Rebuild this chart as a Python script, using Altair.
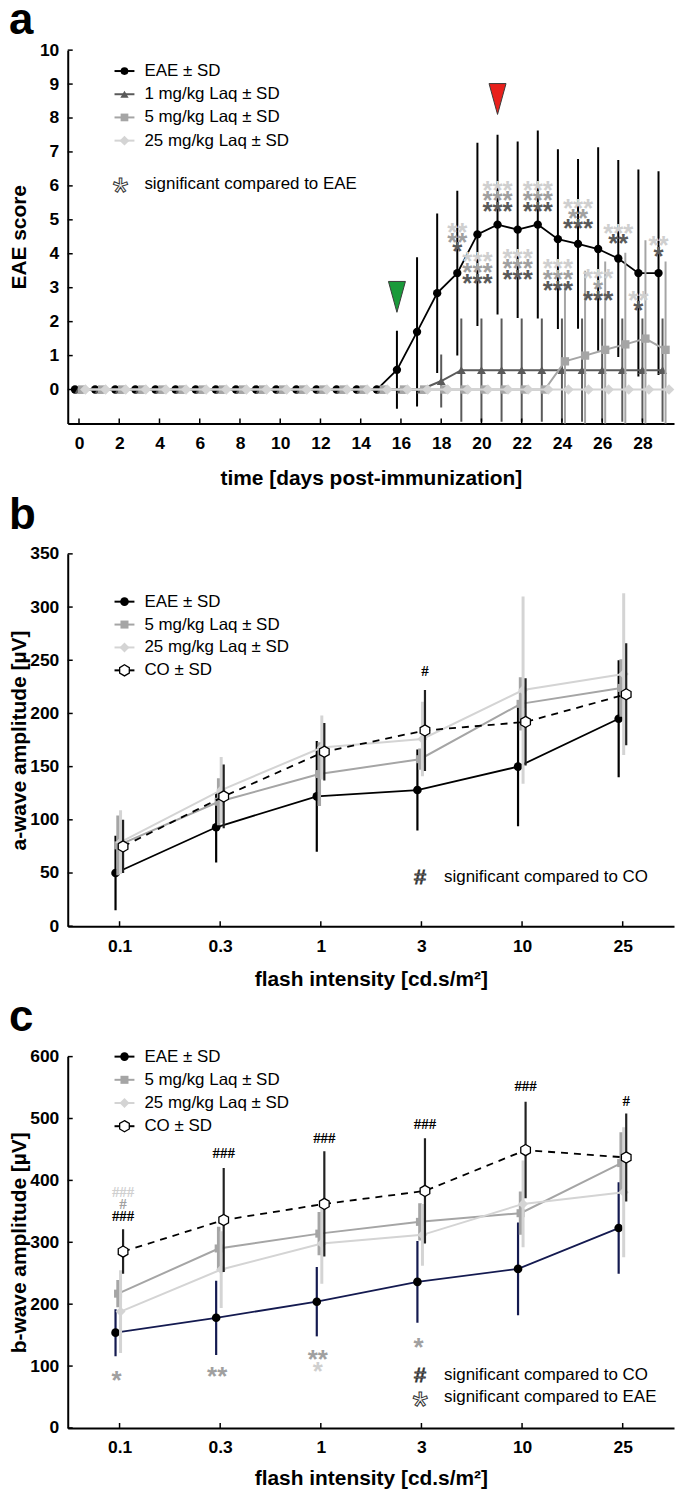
import altair as alt
import pandas as pd

FONT = "Liberation Sans, Arial, Helvetica, sans-serif"
SERIF = "Liberation Serif, Times New Roman, serif"

W = 609
HA, HB, HC = 375, 374, 373

# ---------------- Panel a : EAE score over time ----------------
days = [0, 1, 2, 3, 4, 5, 6, 7, 8, 9, 10, 11, 12, 13, 14,
        15, 16, 17, 18, 19, 20, 21, 22, 23, 24, 25, 26, 27, 28, 29]
eae_mean = [0, 0, 0, 0, 0, 0, 0, 0, 0, 0, 0, 0, 0, 0, 0, 0,
            0.58, 1.70, 2.84, 3.43, 4.57, 4.86, 4.71, 4.86, 4.43, 4.29, 4.14, 3.86, 3.43, 3.43]
eae_sd = [0, 0, 0, 0, 0, 0, 0, 0, 0, 0, 0, 0, 0, 0, 0, 0,
          1.15, 2.20, 2.35, 2.43, 2.70, 2.65, 2.60, 2.77, 2.65, 2.50, 3.00, 2.90, 3.05, 3.00]
laq1_mean = [0, 0, 0, 0, 0, 0, 0, 0, 0, 0, 0, 0, 0, 0, 0, 0, 0, 0,
             0.25, 0.57, 0.57, 0.57, 0.57, 0.57, 0.57, 0.57, 0.57, 0.57, 0.57, 0.57]
laq1_sd = [0, 0, 0, 0, 0, 0, 0, 0, 0, 0, 0, 0, 0, 0, 0, 0, 0, 0,
           0.78, 1.52, 1.52, 1.52, 1.52, 1.52, 1.52, 1.52, 1.52, 1.52, 1.52, 1.52]
laq5_mean = [0, 0, 0, 0, 0, 0, 0, 0, 0, 0, 0, 0, 0, 0, 0, 0, 0, 0, 0, 0, 0, 0, 0, 0,
             0.83, 1.00, 1.17, 1.33, 1.50, 1.17]
laq5_sd = [0, 0, 0, 0, 0, 0, 0, 0, 0, 0, 0, 0, 0, 0, 0, 0, 0, 0, 0, 0, 0, 0, 0, 0,
           2.3, 2.5, 2.6, 2.7, 2.9, 2.6]
laq25_mean = [0, 0, 0, 0, 0, 0, 0, 0, 0, 0, 0, 0, 0, 0, 0,
              0, 0, 0, 0, 0, 0, 0, 0, 0, 0, 0, 0, 0, 0, 0]
laq25_sd = [0, 0, 0, 0, 0, 0, 0, 0, 0, 0, 0, 0, 0, 0, 0,
            0, 0, 0, 0, 0, 0, 0, 0, 0, 0, 0, 0, 0, 0, 0]

# significance stars (vs EAE), placed at EAE positions
star_day_a = [19, 19, 19, 21, 21, 21, 23, 23, 23, 25, 25, 25, 27, 27, 29, 29,
              20, 20, 20, 22, 22, 22, 24, 24, 24, 26, 26, 26, 28, 28]
star_val_a = [4.81, 4.52, 4.25, 6.04, 5.75, 5.43, 6.04, 5.75, 5.43, 5.51, 5.22, 4.93, 4.78, 4.49, 4.43, 4.10,
              3.96, 3.64, 3.31, 4.05, 3.75, 3.43, 3.75, 3.43, 3.11, 3.46, 3.14, 2.82, 2.82, 2.52]
star_txt_a = ["**", "**", "*", "***", "***", "***", "***", "***", "***", "***", "**", "***", "***", "**", "**", "*",
              "***", "***", "***", "***", "***", "***", "***", "***", "***", "***", "*", "***", "**", "*"]
star_grp_a = ["light", "mid", "dark", "light", "mid", "dark", "light", "mid", "dark", "light", "mid", "dark",
              "light", "dark", "light", "dark",
              "light", "mid", "dark", "light", "mid", "dark", "light", "mid", "dark", "light", "mid", "dark",
              "light", "dark"]

# treatment markers (green: start, red: peak)
event_day = [16, 21]
event_val = [2.73, 8.56]
event_name = ["start", "peak"]

# ---------------- Panels b, c : ERG amplitudes ----------------
intensity_labels = ["0.1", "0.3", "1", "3", "10", "25"]
idx = [0, 1, 2, 3, 4, 5]

a_eae = [50, 93, 122, 128, 150, 195]
a_eae_sd = [35, 33, 52, 38, 56, 55]
a_laq5 = [76, 117, 143, 157, 209, 224]
a_laq5_sd = [28, 22, 30, 10, 25, 27]
a_laq25 = [79, 128, 168, 176, 222, 237]
a_laq25_sd = [30, 31, 30, 35, 88, 76]
a_co = [75, 122, 164, 184, 192, 218]
a_co_sd = [25, 30, 27, 38, 41, 48]

b_eae = [154, 178, 204, 236, 257, 323]
b_eae_sd = [38, 60, 56, 66, 75, 74]
b_laq5 = [217, 290, 314, 333, 347, 428]
b_laq5_sd = [22, 35, 35, 30, 35, 50]
b_laq25 = [188, 256, 298, 312, 362, 381]
b_laq25_sd = [67, 62, 65, 50, 70, 105]
b_co = [285, 336, 362, 383, 449, 437]
b_co_sd = [36, 84, 85, 85, 78, 71]

hash_i_b = [3]
hash_val_b = [239.5]
hash_txt_b = ["#"]
hash_grp_b = ["black"]

hash_i_c = [0, 0, 0, 1, 2, 3, 4, 5]
hash_val_c = [381, 362, 342.6, 444, 468, 490.6, 553, 529]
hash_txt_c = ["###", "#", "###", "###", "###", "###", "###", "#"]
hash_grp_c = ["light", "mid", "black", "black", "black", "black", "black", "black"]

star_i_c = [0, 1, 2, 2, 3]
star_val_c = [87, 93, 121, 101, 140]
star_txt_c = ["*", "**", "**", "*", "*"]
star_grp_c = ["mid", "mid", "mid", "light", "mid"]

# ---------------- styles ----------------
C_EAE, C_1, C_5, C_25 = "#000000", "#5a5a5a", "#a5a5a5", "#d4d4d4"
C_NAVY = "#141a50"
GRP_DOMAIN = ["light", "mid", "dark", "black"]
GRP_RANGE = ["#cfcfcf", "#a0a0a0", "#5a5a5a", "#000000"]
HEX = "M0,-1L0.866,-0.5L0.866,0.5L0,1L-0.866,0.5L-0.866,-0.5Z"
TRI_DOWN = "M-0.55,-1L0.55,-1L0,1Z"
LBL_SIZE, TTL_SIZE, LEG_SIZE = 17.5, 21, 17

ONE = pd.DataFrame({"k": [0]})


def axis(values, title_pad, label_pad, label_expr=None):
    kw = dict(values=values, ticks=False, grid=False, domainColor="black", domainWidth=2,
              labelFont=FONT, labelFontSize=LBL_SIZE, labelFontWeight="bold", labelColor="black",
              labelPadding=label_pad, labelOverlap=False, labelFlush=False,
              titleFont=FONT, titleFontSize=TTL_SIZE, titleFontWeight="bold", titleColor="black",
              titlePadding=title_pad)
    if label_expr:
        kw["labelExpr"] = label_expr
    return alt.Axis(**kw)


def make_panel(xscale, yscale, xaxis, yaxis, xtitle, ytitle, H, series, xticks, yticks,
               annotations, legend_items, legend_y0, legend_gap, extra_legend, letter, letter_y):
    def X(f):
        return alt.X(f"{f}:Q", scale=xscale, axis=xaxis, title=xtitle)

    def Y(f):
        return alt.Y(f"{f}:Q", scale=yscale, axis=yaxis, title=ytitle)

    layers = []
    for s in series:
        df = pd.DataFrame({"x": s["x"], "mean": s["mean"], "sd": s["sd"]})
        base = alt.Chart(df).transform_calculate(
            xp=f"datum.x + ({s['dodge']})",
            lo="datum.mean - datum.sd",
            hi="datum.mean + datum.sd",
        )
        layers.append(base.mark_rule(color=s["bar"], strokeWidth=s["bw"], clip=True).encode(
            x=X("xp"), y=Y("lo"), y2=alt.Y2("hi:Q")))
        line_kw = dict(color=s["line"], strokeWidth=s["lw"])
        if s.get("dash"):
            line_kw["strokeDash"] = s["dash"]
        layers.append(base.mark_line(**line_kw).encode(x=X("xp"), y=Y("mean")))
        layers.append(base.mark_point(shape=s["shape"], size=s["size"], filled=True, fill=s["fill"],
                                      stroke=s["stroke"], strokeWidth=s["sw"], opacity=1).encode(
            x=X("xp"), y=Y("mean")))

    # inward ticks
    layers.append(alt.Chart(pd.DataFrame({"t": xticks})).mark_rule(color="black", strokeWidth=1.5).encode(
        x=X("t"), y=alt.value(H), y2=alt.value(H - 5)))
    layers.append(alt.Chart(pd.DataFrame({"t": yticks})).mark_rule(color="black", strokeWidth=1.5).encode(
        y=Y("t"), x=alt.value(0), x2=alt.value(5)))

    # annotations (stars / hashes)
    for an in annotations:
        df = pd.DataFrame({"x": an["x"], "v": an["v"], "txt": an["txt"], "grp": an["grp"]})
        layers.append(alt.Chart(df).transform_calculate(xp=f"datum.x + ({an['dodge']})").mark_text(
            font=an["font"], fontSize=an["size"], fontWeight="bold", baseline="alphabetic",
            dy=an["dy"], align="center").encode(
            x=X("xp"), y=Y("v"), text="txt:N",
            color=alt.Color("grp:N", scale=alt.Scale(domain=GRP_DOMAIN, range=GRP_RANGE), legend=None)))

    # legend
    xs = 57
    for i, it in enumerate(legend_items):
        y = legend_y0 + legend_gap * i
        layers.append(alt.Chart(ONE).mark_rule(color=it["line"], strokeWidth=2).encode(
            x=alt.value(xs - 10), x2=alt.value(xs + 10), y=alt.value(y)))
        layers.append(alt.Chart(ONE).mark_point(shape=it["shape"], size=it["size"], filled=True,
                                                fill=it["fill"], stroke=it["stroke"], strokeWidth=it["sw"],
                                                opacity=1).encode(x=alt.value(xs), y=alt.value(y)))
        layers.append(alt.Chart(ONE).mark_text(text=it["label"], align="left", baseline="middle",
                                               font=FONT, fontSize=LEG_SIZE, color="black").encode(
            x=alt.value(xs + 20), y=alt.value(y)))
    for ex in extra_legend:
        layers.append(alt.Chart(ONE).mark_text(text=ex["sym"], align="center", baseline="alphabetic",
                                               font=FONT, fontSize=ex["symsize"], fill="white",
                                               stroke="#333333", strokeWidth=1, dy=ex["symdy"]).encode(
            x=alt.value(ex["x"]), y=alt.value(ex["y"])))
        layers.append(alt.Chart(ONE).mark_text(text=ex["label"], align="left", baseline="middle",
                                               font=FONT, fontSize=LEG_SIZE, color="black").encode(
            x=alt.value(ex["x"] + 24), y=alt.value(ex["y"])))

    layers.append(alt.Chart(ONE).mark_text(text=letter, align="left", baseline="alphabetic", font=FONT,
                                           fontSize=44, fontWeight="bold", color="black").encode(
        x=alt.value(-59), y=alt.value(letter_y)))
    return alt.layer(*layers).properties(width=W, height=H)


def sty(name):
    return {
        "EAE": dict(line=C_EAE, bar=C_EAE, shape="circle", fill=C_EAE, stroke=C_EAE, sw=0),
        "1": dict(line=C_1, bar=C_1, shape="triangle-up", fill=C_1, stroke=C_1, sw=0),
        "5": dict(line=C_5, bar=C_5, shape="square", fill=C_5, stroke=C_5, sw=0),
        "25": dict(line=C_25, bar=C_25, shape="diamond", fill=C_25, stroke=C_25, sw=0),
        "CO": dict(line="#000000", bar="#222222", shape=HEX, fill="white", stroke="black", sw=1.3),
    }[name]


XT_A = [0, 2, 4, 6, 8, 10, 12, 14, 16, 18, 20, 22, 24, 26, 28]
YT_A = [0, 1, 2, 3, 4, 5, 6, 7, 8, 9, 10]

# ---- panel a ----
series_a = [
    dict(x=days, mean=eae_mean, sd=eae_sd, dodge=-0.2, lw=1.8, bw=2, size=70, **sty("EAE")),
    dict(x=days, mean=laq1_mean, sd=laq1_sd, dodge=0.0, lw=2, bw=2, size=80, **sty("1")),
    dict(x=days, mean=laq5_mean, sd=laq5_sd, dodge=0.15, lw=2, bw=2, size=70, **sty("5")),
    dict(x=days, mean=laq25_mean, sd=laq25_sd, dodge=0.32, lw=2, bw=2, size=115, **sty("25")),
]
leg_a = [
    dict(label="EAE ± SD", size=60, **sty("EAE")),
    dict(label="1 mg/kg Laq ± SD", size=70, **sty("1")),
    dict(label="5 mg/kg Laq ± SD", size=60, **sty("5")),
    dict(label="25 mg/kg Laq ± SD", size=100, **sty("25")),
]
ann_a = [dict(x=star_day_a, v=star_val_a, txt=star_txt_a, grp=star_grp_a, dodge=-0.2,
              font=FONT, size=26, dy=15)]

xs_a = alt.Scale(domain=[-0.56, 29.57], nice=False, zero=False)
ys_a = alt.Scale(domain=[-1, 10], nice=False, zero=False)
ax_xa = axis(XT_A, 16, 11)
ax_ya = axis(YT_A, 10, 9)
pa = make_panel(xs_a, ys_a, ax_xa, ax_ya,
                "time [days post-immunization]", "EAE score", HA, series_a,
                XT_A, YT_A, ann_a, leg_a, 21, 23.3,
                [dict(sym="*", symsize=40, symdy=23, x=53, y=134, label="significant compared to EAE")],
                "a", -16)

ev = pd.DataFrame({"day": event_day, "v": event_val, "name": event_name})
events = alt.Chart(ev).transform_calculate(xp="datum.day - 0.2").mark_point(
    shape=TRI_DOWN, size=961, filled=True, stroke="#3a3a3a", strokeWidth=1, opacity=1).encode(
    x=alt.X("xp:Q", scale=xs_a, axis=ax_xa, title="time [days post-immunization]"),
    y=alt.Y("v:Q", scale=ys_a, axis=ax_ya, title="EAE score"),
    fill=alt.Fill("name:N", scale=alt.Scale(domain=["start", "peak"], range=["#1a9a3a", "#e8201c"]), legend=None))
pa = alt.layer(pa, events)

# ---- panels b, c ----
LBL = "['0.1','0.3','1','3','10','25'][datum.value]"
xs_bc = alt.Scale(domain=[-0.515, 5.51], nice=False, zero=False)
dodge_bc = {"EAE": -0.04, "5": -0.015, "25": 0.01, "CO": 0.035}


def erg_series(eae, eae_sd, l5, l5_sd, l25, l25_sd, co, co_sd, eae_line):
    e = sty("EAE")
    e["line"] = eae_line
    e["bar"] = eae_line
    return [
        dict(x=idx, mean=eae, sd=eae_sd, dodge=dodge_bc["EAE"], lw=1.8, bw=2.2, size=75, **e),
        dict(x=idx, mean=l5, sd=l5_sd, dodge=dodge_bc["5"], lw=2, bw=3.5, size=65, **sty("5")),
        dict(x=idx, mean=l25, sd=l25_sd, dodge=dodge_bc["25"], lw=2, bw=3, size=100, **sty("25")),
        dict(x=idx, mean=co, sd=co_sd, dodge=dodge_bc["CO"], lw=1.8, bw=2.2, size=125, dash=[7, 6], **sty("CO")),
    ]


leg_bc = [
    dict(label="EAE ± SD", size=75, **sty("EAE")),
    dict(label="5 mg/kg Laq ± SD", size=65, **sty("5")),
    dict(label="25 mg/kg Laq ± SD", size=100, **sty("25")),
    dict(label="CO ± SD", size=125, **sty("CO")),
]

YT_B = [0, 50, 100, 150, 200, 250, 300, 350]
ys_b = alt.Scale(domain=[0, 350], nice=False, zero=False)
pb = make_panel(xs_bc, ys_b, axis(idx, 14, 11, LBL), axis(YT_B, 0.5, 9),
                "flash intensity [cd.s/m²]", "a-wave amplitude [µV]", HB,
                erg_series(a_eae, a_eae_sd, a_laq5, a_laq5_sd, a_laq25, a_laq25_sd, a_co, a_co_sd, C_EAE),
                idx, YT_B,
                [dict(x=hash_i_b, v=hash_val_b, txt=hash_txt_b, grp=hash_grp_b, dodge=0.035,
                      font=SERIF, size=15, dy=5)],
                leg_bc, 48, 23,
                [dict(sym="#", symsize=21, symdy=7, x=354, y=325, label="significant compared to CO")],
                "b", -25)

YT_C = [0, 100, 200, 300, 400, 500, 600]
ys_c = alt.Scale(domain=[0, 600], nice=False, zero=False)
pc = make_panel(xs_bc, ys_c, axis(idx, 11.5, 11, LBL), axis(YT_C, 0.5, 9),
                "flash intensity [cd.s/m²]", "b-wave amplitude [µV]", HC,
                erg_series(b_eae, b_eae_sd, b_laq5, b_laq5_sd, b_laq25, b_laq25_sd, b_co, b_co_sd, C_NAVY),
                idx, YT_C,
                [dict(x=hash_i_c, v=hash_val_c, txt=hash_txt_c, grp=hash_grp_c, dodge=0.035,
                      font=SERIF, size=15, dy=5),
                 dict(x=star_i_c, v=star_val_c, txt=star_txt_c, grp=star_grp_c, dodge=-0.03,
                      font=FONT, size=26, dy=15)],
                leg_bc, 0, 23.3,
                [dict(sym="#", symsize=21, symdy=7, x=354, y=320, label="significant compared to CO"),
                 dict(sym="*", symsize=40, symdy=23, x=354, y=342, label="significant compared to EAE")],
                "c", -26)

chart = alt.vconcat(pa, pb, pc, spacing=131, bounds="flush").properties(
    padding={"left": 0, "top": -12, "right": 2, "bottom": -2},
    background="white",
).configure_view(stroke=None)

chart.save("out.html", embed_options={"renderer": "svg", "actions": False})
